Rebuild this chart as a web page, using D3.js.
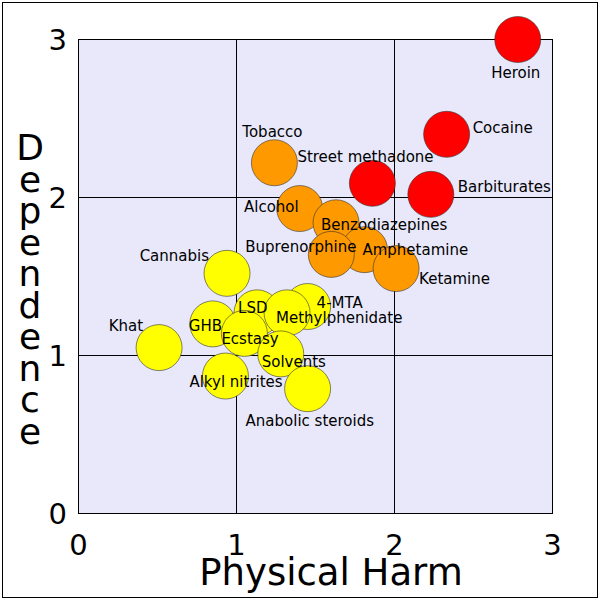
<!DOCTYPE html>
<html>
<head>
<meta charset="utf-8">
<script src="https://cdn.jsdelivr.net/npm/d3@7"></script>
<style>
body { margin: 0; background: #fff; }
text { font-family: "DejaVu Sans", sans-serif; }
</style>
</head>
<body>
<script>
// data
var drugs = ["Heroin", "Cocaine", "Barbiturates", "Street methadone", "Tobacco", "Alcohol",
  "Benzodiazepines", "Amphetamine", "Buprenorphine", "Ketamine", "Cannabis", "4-MTA", "LSD",
  "Methylphenidate", "GHB", "Ecstasy", "Khat", "Solvents", "Alkyl nitrites", "Anabolic steroids"];
var physicalHarm = [2.78, 2.33, 2.23, 1.86, 1.24, 1.40, 1.63, 1.81, 1.60, 2.01, 0.94, 1.45, 1.13,
  1.32, 0.85, 1.05, 0.51, 1.28, 0.93, 1.45];
var dependence = [3.0, 2.40, 2.02, 2.09, 2.22, 1.93, 1.84, 1.67, 1.64, 1.55, 1.52, 1.31, 1.27,
  1.27, 1.20, 1.14, 1.05, 1.01, 0.87, 0.79];
var groups = ["high", "high", "high", "high", "mid", "mid", "mid", "mid", "mid", "mid",
  "low", "low", "low", "low", "low", "low", "low", "low", "low", "low"];
var ticks = [0, 1, 2, 3];

// label placement relative to the circle centre
var labelPos = [[-2, 38, "middle"], [26, -1, "start"], [27, -2, "start"], [-75, -21, "start"],
  [-2, -26, "middle"], [-1, 3, "end"], [-15, 7, "start"], [-2, 5, "start"], [-86, -2, "start"],
  [23, 15, "start"], [-18, -12, "end"], [9, 1, "start"], [-19, 0, "start"], [-11, 10, "start"],
  [-24, 7, "start"], [-23, 11, "start"], [-16, -17, "end"], [-19, 13, "start"],
  [-36, 11, "start"], [-62, 37, "start"]];
var colors = { high: "#ff0000", mid: "#ff9900", low: "#ffff00" };

var svg = d3.select("body").append("svg").attr("width", 600).attr("height", 600)
  .attr("shape-rendering", "auto");
svg.append("rect").attr("x", 2.5).attr("y", 2.5).attr("width", 595).attr("height", 595)
  .attr("fill", "#fff").attr("stroke", "#000");

var x = d3.scaleLinear().domain([0, 3]).range([78.5, 552.5]);
var y = d3.scaleLinear().domain([0, 3]).range([513.5, 39.5]);

svg.append("rect").attr("x", x(0)).attr("y", y(3)).attr("width", x(3) - x(0)).attr("height", y(0) - y(3))
  .attr("fill", "#e8e8fa").attr("stroke", "#000");

svg.selectAll(".vg").data(ticks).enter().append("line")
  .attr("x1", d => x(d)).attr("x2", d => x(d)).attr("y1", y(0)).attr("y2", y(3)).attr("stroke", "#000");
svg.selectAll(".hg").data(ticks).enter().append("line")
  .attr("y1", d => y(d)).attr("y2", d => y(d)).attr("x1", x(0)).attr("x2", x(3)).attr("stroke", "#000");

svg.selectAll(".xt").data(ticks).enter().append("text")
  .attr("x", d => x(d)).attr("y", 555).attr("text-anchor", "middle").attr("font-size", 29).text(d => d);
svg.selectAll(".yt").data(ticks).enter().append("text")
  .attr("x", 67).attr("y", d => y(d) + 10).attr("text-anchor", "end").attr("font-size", 29).text(d => d);

svg.append("text").attr("x", 331).attr("y", 585).attr("text-anchor", "middle")
  .attr("font-size", 37).text("Physical Harm");
var yl = svg.append("text").attr("text-anchor", "middle").attr("font-size", 36);
"Dependence".split("").forEach(function(c, i) {
  yl.append("tspan").attr("x", 30).attr("y", 160 + i * 31.5).text(c);
});

var idx = d3.range(drugs.length);
svg.selectAll("circle.d").data(idx).enter().append("circle")
  .attr("cx", i => x(physicalHarm[i])).attr("cy", i => y(dependence[i])).attr("r", 23)
  .attr("fill", i => colors[groups[i]]).attr("stroke", "#333").attr("stroke-width", 0.6);
svg.selectAll("text.lab").data(idx).enter().append("text")
  .attr("x", i => x(physicalHarm[i]) + labelPos[i][0])
  .attr("y", i => y(dependence[i]) + labelPos[i][1])
  .attr("text-anchor", i => labelPos[i][2]).attr("font-size", 15).text(i => drugs[i]);
</script>
</body>
</html>
